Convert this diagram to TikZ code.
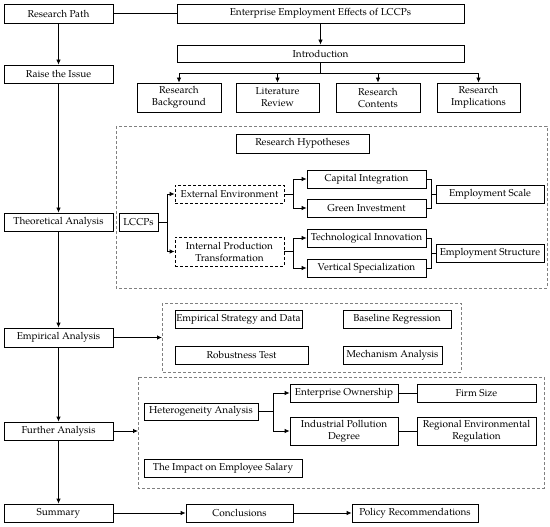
\documentclass[tikz,border=0pt]{standalone}
\usepackage{fontspec}
\setmainfont{texgyrepagella-regular.otf}
\usetikzlibrary{arrows.meta,calc}
\tikzset{
  box/.style={draw=black, line width=0.8pt, inner sep=0pt, align=center, font=\fontsize{10}{12}\selectfont},
  dbox/.style={box, dashed, dash pattern=on 3pt off 2pt},
  grp/.style={draw=black!50, line width=0.9pt, dash pattern=on 3pt off 2pt},
  ln/.style={line width=0.8pt},
  arr/.style={ln, -{Latex[length=5pt,width=4.5pt]}}
}
\newcommand\bx[7][box]{\node[#1, minimum width={(#5-#3)*1pt}, minimum height={(#6-#4)*1pt}] (#2) at ({(#3+#5)/2},{-(#4+#6)/2}) {#7};}
\begin{document}
\begin{tikzpicture}[x=1pt,y=1pt]
\useasboundingbox (0,0) rectangle (550,-527);
% dashed groups
\draw[grp] (116,-126) rectangle (547,-288);
\draw[grp] (162,-303) rectangle (461,-372);
\draw[grp] (138,-377) rectangle (544,-488);
% left column
\bx{rp}{4}{4}{113}{23}{Research Path}
\bx{rti}{4}{65}{113}{83}{Raise the Issue}
\bx{ta}{4}{213}{113}{231}{Theoretical Analysis}
\bx{ea}{4}{328}{113}{347}{Empirical Analysis}
\bx{fa}{4}{422}{113}{440}{Further Analysis}
\bx{sum}{4}{504}{113}{522}{Summary}
% intro part
\bx{eee}{177}{4}{464}{23}{Enterprise Employment Effects of LCCPs}
\bx{intro}{177}{45}{464}{62}{Introduction}
\bx{rb}{137}{83}{221}{112}{Research\\Background}
\bx{lr}{236}{83}{319}{112}{Literature\\Review}
\bx{rc}{336}{83}{420}{112}{Research\\Contents}
\bx{ri}{437}{83}{520}{112}{Research\\Implications}
% theory
\bx{rh}{236}{134}{369}{153}{Research Hypotheses}
\bx{lccps}{119}{213}{158}{231}{LCCPs}
\bx[dbox]{ee}{175}{185}{284}{203}{External Environment}
\bx[dbox]{ipt}{175}{237}{284}{266}{Internal Production\\Transformation}
\bx{ci}{307}{170}{426}{188}{Capital Integration}
\bx{gi}{307}{199}{426}{217}{Green Investment}
\bx{ti}{307}{229}{426}{247}{Technological Innovation}
\bx{vs}{307}{259}{426}{277}{Vertical Specialization}
\bx{es}{436}{185}{544}{203}{Employment Scale}
\bx{est}{436}{244}{544}{262}{Employment Structure}
% empirical
\bx{esd}{175}{310}{302}{328}{Empirical Strategy and Data}
\bx{br}{343}{310}{451}{328}{Baseline Regression}
\bx{rt}{175}{346}{308}{364}{Robustness Test}
\bx{ma}{343}{346}{442}{364}{Mechanism Analysis}
% further
\bx{ha}{144}{403}{258}{420}{Heterogeneity Analysis}
\bx{eo}{290}{384}{398}{402}{Enterprise Ownership}
\bx{fs}{417}{384}{536}{402}{Firm Size}
\bx{ipd}{290}{417}{398}{445}{Industrial Pollution\\Degree}
\bx{rer}{417}{417}{536}{445}{Regional Environmental\\Regulation}
\bx{ies}{144}{459}{302}{477}{The Impact on Employee Salary}
% summary
\bx{con}{186}{504}{293}{522}{Conclusions}
\bx{pr}{352}{504}{478}{522}{Policy Recommendations}
% group anchors
\coordinate (g2) at (162,-337.5);
\coordinate (g3) at (138,-431);
% connectors
\draw[ln] (rp) -- (eee);
\draw[arr] (rp) -- (rti);
\draw[arr] (rti) -- (ta);
\draw[arr] (ta) -- (ea);
\draw[arr] (ea) -- (fa);
\draw[arr] (fa) -- (sum);
\draw[arr] (ea.east) -- (g2);
\draw[arr] (fa.east) -- (g3);
\draw[arr] (sum) -- (con);
\draw[arr] (con) -- (pr);
\draw[arr] (eee) -- (intro);
\draw[ln] (intro.south) -- ++(0,-11) coordinate (j);
\draw[ln] (rb.north |- j) -- (ri.north |- j);
\foreach \b in {rb,lr,rc,ri} \draw[arr] (\b.north |- j) -- (\b.north);
\draw[arr] (lccps.east) -- ++(9,0) |- (ee.west);
\draw[arr] (lccps.east) -- ++(9,0) |- (ipt.west);
\draw[arr] (ee.east) -- ++(9,0) |- (ci.west);
\draw[arr] (ee.east) -- ++(9,0) |- (gi.west);
\draw[arr] (ipt.east) -- ++(9,0) |- (ti.west);
\draw[arr] (ipt.east) -- ++(9,0) |- (vs.west);
\draw[ln] (ci.east) -- ++(5,0) |- (es.west);
\draw[ln] (gi.east) -- ++(5,0) |- (es.west);
\draw[ln] (ti.east) -- ++(5,0) |- (est.west);
\draw[ln] (vs.east) -- ++(5,0) |- (est.west);
\draw[arr] (ha.east) -- ++(15,0) |- (eo.west);
\draw[arr] (ha.east) -- ++(15,0) |- (ipd.west);
\draw[ln] (eo) -- (fs);
\draw[ln] (ipd) -- (rer);
\end{tikzpicture}
\end{document}
